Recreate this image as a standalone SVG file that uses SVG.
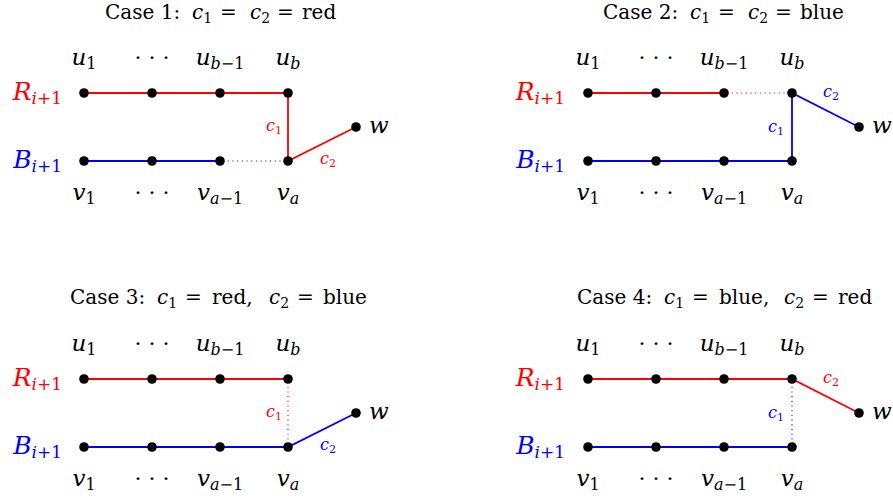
<svg xmlns="http://www.w3.org/2000/svg" width="893" height="498" viewBox="0 0 893 498">
<style>
text{font-family:"DejaVu Serif","Liberation Serif",serif;fill:#000}
.t{font-size:20px}
.i{font-style:italic}
.s{font-size:14px;font-style:normal}
.lb{font-size:23px;text-anchor:middle}
.ls{font-size:16px}
.big{font-size:25px;text-anchor:end}
.bs{font-size:17px}
.el{font-size:16px;font-style:italic}
.es{font-size:11px;font-style:normal}
.red{fill:#ff0000}
.blue{fill:#0000ff}
.n{fill:#000}
.sr{stroke:#ff0000;stroke-width:1.8;fill:none}
.sb{stroke:#0000ff;stroke-width:1.8;fill:none}
.dr{stroke:#ff0000;stroke-width:1.1;stroke-dasharray:1.1 3.6;fill:none}
.db{stroke:#0000ff;stroke-width:1.1;stroke-dasharray:1.1 3.6;fill:none}
.dots{font-family:"Liberation Serif",serif;font-size:24px;text-anchor:middle}
</style>

<g id="titles">
<text class="t" y="19"><tspan x="105">Case 1:</tspan><tspan class="i" x="192">c</tspan><tspan class="s" y="23">1</tspan><tspan x="220" y="19">=</tspan><tspan class="i" x="250">c</tspan><tspan class="s" y="23">2</tspan><tspan x="277" y="19">=</tspan><tspan x="302">red</tspan></text>
<text class="t" y="19"><tspan x="603">Case 2:</tspan><tspan class="i" x="690">c</tspan><tspan class="s" y="23">1</tspan><tspan x="718" y="19">=</tspan><tspan class="i" x="748">c</tspan><tspan class="s" y="23">2</tspan><tspan x="775" y="19">=</tspan><tspan x="800">blue</tspan></text>
<text class="t" y="304"><tspan x="70">Case 3:</tspan><tspan class="i" x="157">c</tspan><tspan class="s" y="308">1</tspan><tspan x="185" y="304">=</tspan><tspan x="212">red,</tspan><tspan class="i" x="269">c</tspan><tspan class="s" y="308">2</tspan><tspan x="297" y="304">=</tspan><tspan x="323">blue</tspan></text>
<text class="t" y="304"><tspan x="577">Case 4:</tspan><tspan class="i" x="664">c</tspan><tspan class="s" y="308">1</tspan><tspan x="692" y="304">=</tspan><tspan x="719">blue,</tspan><tspan class="i" x="784">c</tspan><tspan class="s" y="308">2</tspan><tspan x="812" y="304">=</tspan><tspan x="838">red</tspan></text>
</g>

<g id="connectors">
<path class="sr" d="M84 93H288V161L356 127"/>
<path class="sb" d="M84 161H220"/>
<path class="db" d="M223 161H285"/>
<path class="sr" d="M588 93H724"/>
<path class="dr" d="M727 93H789"/>
<path class="sb" d="M588 161H792V93L859 127"/>
<path class="sr" d="M84 379H288"/>
<path class="dr" d="M288 382V444"/>
<path class="sb" d="M84 447H288L356 413"/>
<path class="sr" d="M588 379H792L859 413"/>
<path class="db" d="M792 382V444"/>
<path class="sb" d="M588 447H792"/>
</g>

<g id="edge-labels">
<text class="el red" x="266" y="131">c<tspan class="es" dy="3">1</tspan></text>
<text class="el red" x="320" y="164">c<tspan class="es" dy="3">2</tspan></text>
<text class="el blue" x="768" y="132">c<tspan class="es" dy="3">1</tspan></text>
<text class="el blue" x="823" y="97">c<tspan class="es" dy="3">2</tspan></text>
<text class="el red" x="266" y="417">c<tspan class="es" dy="3">1</tspan></text>
<text class="el blue" x="320" y="450">c<tspan class="es" dy="3">2</tspan></text>
<text class="el blue" x="768" y="418">c<tspan class="es" dy="3">1</tspan></text>
<text class="el red" x="823" y="383">c<tspan class="es" dy="3">2</tspan></text>
</g>

<g id="p1">
<text class="big red" x="62" y="100"><tspan class="i">R</tspan><tspan class="bs i" dy="4">i</tspan><tspan class="bs">+1</tspan></text>
<text class="big blue" x="62" y="168"><tspan class="i">B</tspan><tspan class="bs i" dy="4">i</tspan><tspan class="bs">+1</tspan></text>
<g id="p1-u1"><circle class="n" cx="84" cy="93" r="4.8"/><text class="lb" x="84" y="65"><tspan class="i">u</tspan><tspan class="ls" dy="4">1</tspan></text></g>
<g id="p1-u2"><circle class="n" cx="152" cy="93" r="4.8"/><text class="dots" x="152" y="65">· · ·</text></g>
<g id="p1-ub1"><circle class="n" cx="220" cy="93" r="4.8"/><text class="lb" x="220" y="65"><tspan class="i">u</tspan><tspan class="ls i" dy="4">b</tspan><tspan class="ls">−1</tspan></text></g>
<g id="p1-ub"><circle class="n" cx="288" cy="93" r="4.8"/><text class="lb" x="288" y="65"><tspan class="i">u</tspan><tspan class="ls i" dy="4">b</tspan></text></g>
<g id="p1-v1"><circle class="n" cx="84" cy="161" r="4.8"/><text class="lb" x="84" y="200"><tspan class="i">v</tspan><tspan class="ls" dy="4">1</tspan></text></g>
<g id="p1-v2"><circle class="n" cx="152" cy="161" r="4.8"/><text class="dots" x="152" y="200">· · ·</text></g>
<g id="p1-va1"><circle class="n" cx="220" cy="161" r="4.8"/><text class="lb" x="220" y="200"><tspan class="i">v</tspan><tspan class="ls i" dy="4">a</tspan><tspan class="ls">−1</tspan></text></g>
<g id="p1-va"><circle class="n" cx="288" cy="161" r="4.8"/><text class="lb" x="288" y="200"><tspan class="i">v</tspan><tspan class="ls i" dy="4">a</tspan></text></g>
<g id="p1-w"><circle class="n" cx="356" cy="127" r="4.8"/><text class="lb i" x="369" y="133" style="text-anchor:start">w</text></g>
</g>

<g id="p2">
<text class="big red" x="565" y="100"><tspan class="i">R</tspan><tspan class="bs i" dy="4">i</tspan><tspan class="bs">+1</tspan></text>
<text class="big blue" x="565" y="168"><tspan class="i">B</tspan><tspan class="bs i" dy="4">i</tspan><tspan class="bs">+1</tspan></text>
<g id="p2-u1"><circle class="n" cx="588" cy="93" r="4.8"/><text class="lb" x="588" y="65"><tspan class="i">u</tspan><tspan class="ls" dy="4">1</tspan></text></g>
<g id="p2-u2"><circle class="n" cx="656" cy="93" r="4.8"/><text class="dots" x="656" y="65">· · ·</text></g>
<g id="p2-ub1"><circle class="n" cx="724" cy="93" r="4.8"/><text class="lb" x="724" y="65"><tspan class="i">u</tspan><tspan class="ls i" dy="4">b</tspan><tspan class="ls">−1</tspan></text></g>
<g id="p2-ub"><circle class="n" cx="792" cy="93" r="4.8"/><text class="lb" x="792" y="65"><tspan class="i">u</tspan><tspan class="ls i" dy="4">b</tspan></text></g>
<g id="p2-v1"><circle class="n" cx="588" cy="161" r="4.8"/><text class="lb" x="588" y="200"><tspan class="i">v</tspan><tspan class="ls" dy="4">1</tspan></text></g>
<g id="p2-v2"><circle class="n" cx="656" cy="161" r="4.8"/><text class="dots" x="656" y="200">· · ·</text></g>
<g id="p2-va1"><circle class="n" cx="724" cy="161" r="4.8"/><text class="lb" x="724" y="200"><tspan class="i">v</tspan><tspan class="ls i" dy="4">a</tspan><tspan class="ls">−1</tspan></text></g>
<g id="p2-va"><circle class="n" cx="792" cy="161" r="4.8"/><text class="lb" x="792" y="200"><tspan class="i">v</tspan><tspan class="ls i" dy="4">a</tspan></text></g>
<g id="p2-w"><circle class="n" cx="859" cy="127" r="4.8"/><text class="lb i" x="872" y="133" style="text-anchor:start">w</text></g>
</g>

<g id="p3">
<text class="big red" x="62" y="386"><tspan class="i">R</tspan><tspan class="bs i" dy="4">i</tspan><tspan class="bs">+1</tspan></text>
<text class="big blue" x="62" y="454"><tspan class="i">B</tspan><tspan class="bs i" dy="4">i</tspan><tspan class="bs">+1</tspan></text>
<g id="p3-u1"><circle class="n" cx="84" cy="379" r="4.8"/><text class="lb" x="84" y="351"><tspan class="i">u</tspan><tspan class="ls" dy="4">1</tspan></text></g>
<g id="p3-u2"><circle class="n" cx="152" cy="379" r="4.8"/><text class="dots" x="152" y="351">· · ·</text></g>
<g id="p3-ub1"><circle class="n" cx="220" cy="379" r="4.8"/><text class="lb" x="220" y="351"><tspan class="i">u</tspan><tspan class="ls i" dy="4">b</tspan><tspan class="ls">−1</tspan></text></g>
<g id="p3-ub"><circle class="n" cx="288" cy="379" r="4.8"/><text class="lb" x="288" y="351"><tspan class="i">u</tspan><tspan class="ls i" dy="4">b</tspan></text></g>
<g id="p3-v1"><circle class="n" cx="84" cy="447" r="4.8"/><text class="lb" x="84" y="486"><tspan class="i">v</tspan><tspan class="ls" dy="4">1</tspan></text></g>
<g id="p3-v2"><circle class="n" cx="152" cy="447" r="4.8"/><text class="dots" x="152" y="486">· · ·</text></g>
<g id="p3-va1"><circle class="n" cx="220" cy="447" r="4.8"/><text class="lb" x="220" y="486"><tspan class="i">v</tspan><tspan class="ls i" dy="4">a</tspan><tspan class="ls">−1</tspan></text></g>
<g id="p3-va"><circle class="n" cx="288" cy="447" r="4.8"/><text class="lb" x="288" y="486"><tspan class="i">v</tspan><tspan class="ls i" dy="4">a</tspan></text></g>
<g id="p3-w"><circle class="n" cx="356" cy="413" r="4.8"/><text class="lb i" x="369" y="419" style="text-anchor:start">w</text></g>
</g>

<g id="p4">
<text class="big red" x="565" y="386"><tspan class="i">R</tspan><tspan class="bs i" dy="4">i</tspan><tspan class="bs">+1</tspan></text>
<text class="big blue" x="565" y="454"><tspan class="i">B</tspan><tspan class="bs i" dy="4">i</tspan><tspan class="bs">+1</tspan></text>
<g id="p4-u1"><circle class="n" cx="588" cy="379" r="4.8"/><text class="lb" x="588" y="351"><tspan class="i">u</tspan><tspan class="ls" dy="4">1</tspan></text></g>
<g id="p4-u2"><circle class="n" cx="656" cy="379" r="4.8"/><text class="dots" x="656" y="351">· · ·</text></g>
<g id="p4-ub1"><circle class="n" cx="724" cy="379" r="4.8"/><text class="lb" x="724" y="351"><tspan class="i">u</tspan><tspan class="ls i" dy="4">b</tspan><tspan class="ls">−1</tspan></text></g>
<g id="p4-ub"><circle class="n" cx="792" cy="379" r="4.8"/><text class="lb" x="792" y="351"><tspan class="i">u</tspan><tspan class="ls i" dy="4">b</tspan></text></g>
<g id="p4-v1"><circle class="n" cx="588" cy="447" r="4.8"/><text class="lb" x="588" y="486"><tspan class="i">v</tspan><tspan class="ls" dy="4">1</tspan></text></g>
<g id="p4-v2"><circle class="n" cx="656" cy="447" r="4.8"/><text class="dots" x="656" y="486">· · ·</text></g>
<g id="p4-va1"><circle class="n" cx="724" cy="447" r="4.8"/><text class="lb" x="724" y="486"><tspan class="i">v</tspan><tspan class="ls i" dy="4">a</tspan><tspan class="ls">−1</tspan></text></g>
<g id="p4-va"><circle class="n" cx="792" cy="447" r="4.8"/><text class="lb" x="792" y="486"><tspan class="i">v</tspan><tspan class="ls i" dy="4">a</tspan></text></g>
<g id="p4-w"><circle class="n" cx="859" cy="413" r="4.8"/><text class="lb i" x="872" y="419" style="text-anchor:start">w</text></g>
</g>
</svg>
